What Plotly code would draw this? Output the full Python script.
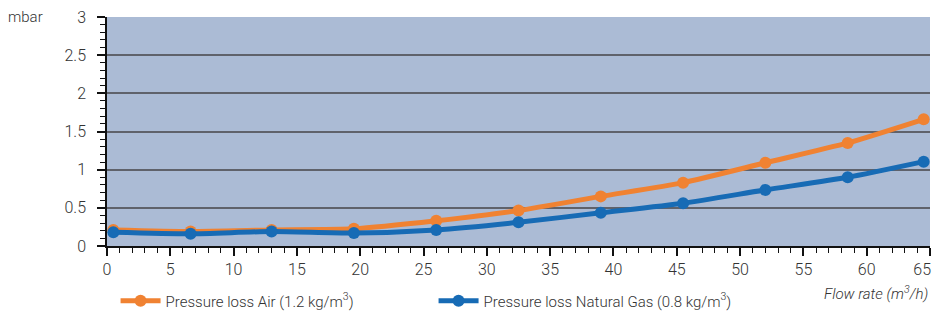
import plotly.graph_objects as go

flow = [0.5, 6.6, 13, 19.5, 26, 32.5, 39, 45.5, 52, 58.5, 64.5]
air = [0.21, 0.19, 0.21, 0.225, 0.33, 0.465, 0.65, 0.83, 1.09, 1.35, 1.66]
gas = [0.18, 0.16, 0.19, 0.17, 0.21, 0.31, 0.435, 0.56, 0.735, 0.90, 1.105]
x_ticks = list(range(0, 70, 5))
x_tick_text = [str(v) for v in x_ticks[:-1]] + ["65\u00a0\u00a0\u00a0\u00a0"]
y_ticks = [0, 0.5, 1, 1.5, 2, 2.5, 3]
y_tick_text = ["0", "0.5", "1", "1.5", "2", "2.5", "3"]

FONT = "Roboto, Arial"
TXT = "#333333"
ORANGE = "#F08232"
BLUE = "#176BB5"

fig = go.Figure()
fig.add_trace(go.Scatter(
    x=flow, y=air, mode="lines+markers", name="Pressure loss Air (1.2 kg/m<sup>3</sup>)",
    line=dict(color=ORANGE, width=5, shape="spline", smoothing=0.6),
    marker=dict(color=ORANGE, size=12)))
fig.add_trace(go.Scatter(
    x=flow, y=gas, mode="lines+markers", name="Pressure loss Natural Gas (0.8 kg/m<sup>3</sup>)",
    line=dict(color=BLUE, width=5, shape="spline", smoothing=0.6),
    marker=dict(color=BLUE, size=12)))

fnt = dict(family=FONT, size=15, color=TXT, weight=300)

fig.update_layout(
    width=932, height=314,
    margin=dict(l=107, r=2, t=17, b=68, autoexpand=False),
    paper_bgcolor="white", plot_bgcolor="#ABBBD5",
    font=fnt,
    showlegend=True,
    legend=dict(orientation="h", x=0.0104, xanchor="left", y=-0.24, yanchor="middle",
                font=fnt, itemwidth=40,
                bgcolor="rgba(0,0,0,0)", traceorder="normal", entrywidth=263),
    xaxis=dict(range=[0, 65], tickvals=x_ticks, ticktext=x_tick_text, showgrid=False, zeroline=False,
               showline=True, linecolor="#111", linewidth=1.5, automargin=False,
               ticks="outside", ticklen=8, tickcolor="#111", tickwidth=1.5,
               ticklabeloverflow="allow",
               minor=dict(dtick=1, ticks="outside", ticklen=5, tickcolor="#111", tickwidth=1.2),
               tickfont=dict(family=FONT, size=16, color=TXT, weight=300)),
    yaxis=dict(range=[0, 3], tickvals=y_ticks, ticktext=y_tick_text, showgrid=True,
               gridcolor="#5F626B", gridwidth=2, zeroline=False, automargin=False,
               showline=True, linecolor="#111", linewidth=1.5,
               ticks="outside", ticklen=8, tickcolor="#111", tickwidth=1.5,
               ticklabeloverflow="allow",
               minor=dict(dtick=0.1, ticks="outside", ticklen=5, tickcolor="#111", tickwidth=1.2, showgrid=False),
               ticklabelstandoff=8,
               tickfont=dict(family=FONT, size=16, color=TXT, weight=300)),
    annotations=[
        dict(text="mbar", xref="paper", yref="paper", x=-0.123, y=1.0, xanchor="left",
             yanchor="middle", showarrow=False, font=fnt),
        dict(text="<i>Flow rate (m<sup>3</sup>/h)</i>", xref="paper", yref="paper", x=1.0, y=-0.205,
             xanchor="right", yanchor="middle", showarrow=False, font=fnt),
    ],
)

fig.write_html("out.html", config={"displayModeBar": False},
               post_script="document.body.style.margin='0';document.body.style.overflow='hidden';")
